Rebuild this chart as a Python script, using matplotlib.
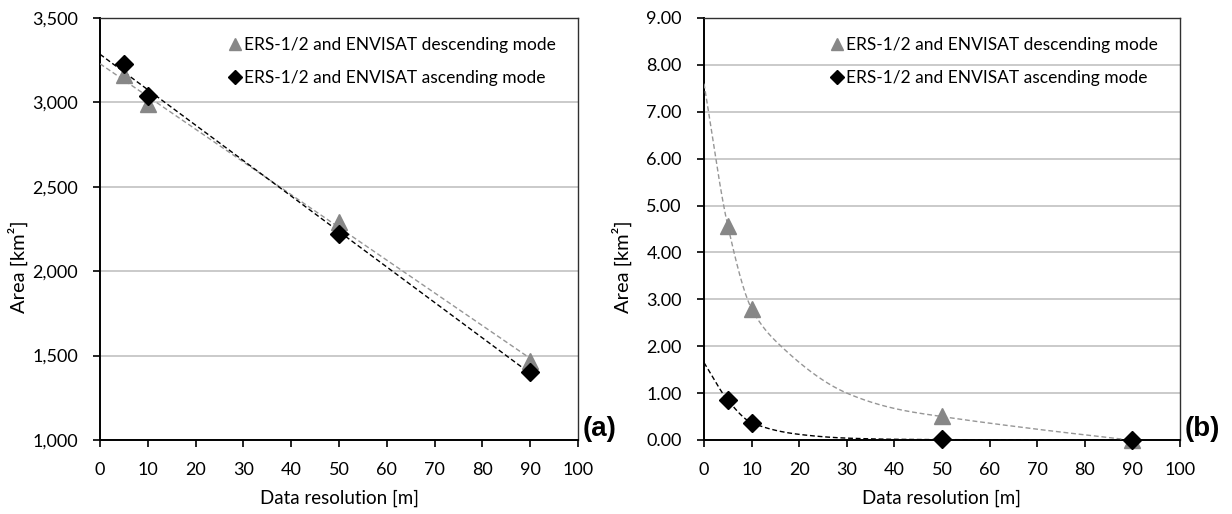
import numpy as np
import matplotlib
matplotlib.use("Agg")
import matplotlib.pyplot as plt
from matplotlib.ticker import FuncFormatter

plt.rcParams['font.family'] = ['Lato', 'DejaVu Sans']

# ---------------- data ----------------
resolution = [5, 10, 50, 90]

# panel (a)
desc_a = [3160, 2990, 2290, 1470]
asc_a = [3225, 3035, 2220, 1405]

# panel (b)
desc_b = [4.57, 2.80, 0.52, 0.0]
asc_b = [0.85, 0.37, 0.02, 0.0]

# trend curves of panel (b)
desc_b_trend_x = [0, 5, 10, 16.5, 30, 41, 50, 70, 89.5]
desc_b_trend_y = [7.6, 4.57, 2.8, 1.97, 1.0, 0.65, 0.5, 0.23, 0.0]
asc_b_trend_x = [0, 5, 10, 20, 30, 40, 50, 90]
asc_b_trend_y = [1.65, 0.85, 0.37, 0.12, 0.04, 0.015, 0.008, 0.0]

label_desc = "ERS-1/2 and ENVISAT descending mode"
label_asc = "ERS-1/2 and ENVISAT ascending mode"
xlabel = "Data resolution [m]"
ylabel = "Area [km²]"


def pchip(x, y, xn):
    x = np.asarray(x, float); y = np.asarray(y, float)
    h = np.diff(x); d = np.diff(y) / h
    m = np.zeros_like(y)
    for k in range(1, len(x) - 1):
        if d[k - 1] * d[k] <= 0:
            m[k] = 0
        else:
            w1 = 2 * h[k] + h[k - 1]; w2 = h[k] + 2 * h[k - 1]
            m[k] = (w1 + w2) / (w1 / d[k - 1] + w2 / d[k])
    m[0] = d[0]; m[-1] = d[-1]
    out = np.empty_like(xn)
    for i, xv in enumerate(xn):
        k = min(max(np.searchsorted(x, xv) - 1, 0), len(x) - 2)
        t = (xv - x[k]) / h[k]
        h00 = 2 * t**3 - 3 * t**2 + 1; h10 = t**3 - 2 * t**2 + t
        h01 = -2 * t**3 + 3 * t**2; h11 = t**3 - t**2
        out[i] = h00 * y[k] + h10 * h[k] * m[k] + h01 * y[k + 1] + h11 * h[k] * m[k + 1]
    return out


GRAY = '#878787'
GRAY_LINE = '#969696'
fig = plt.figure(figsize=(12.32, 5.14), dpi=100)
axa = fig.add_axes([100 / 1232, 1 - 440 / 514, 478 / 1232, 422 / 514])
axb = fig.add_axes([704 / 1232, 1 - 440 / 514, 476 / 1232, 422 / 514])

dash = (0, (3.5, 2))

# ---- panel (a) ----
xx = np.linspace(0, 90, 50)
pd_ = np.polyfit(resolution, desc_a, 1)
pa_ = np.polyfit(resolution, asc_a, 1)
axa.plot(xx, np.polyval(pd_, xx), color=GRAY_LINE, lw=1, ls=dash, zorder=3)
axa.plot(xx, np.polyval(pa_, xx), color='black', lw=1, ls=dash, zorder=3)
axa.plot(resolution, desc_a, ls='none', marker='^', ms=11, color=GRAY, zorder=4, label=label_desc)
axa.plot(resolution, asc_a, ls='none', marker='D', ms=9.5, color='black', zorder=5, label=label_asc)
axa.set_ylim(1000, 3500)
axa.set_yticks(np.arange(1000, 3501, 500))
axa.yaxis.set_major_formatter(FuncFormatter(lambda v, p: f"{int(v):,}"))

# ---- panel (b) ----
xd = np.linspace(0, 89.5, 300)
axb.plot(xd, pchip(desc_b_trend_x, desc_b_trend_y, xd), color=GRAY_LINE, lw=1, ls=dash, zorder=3)
xa = np.linspace(0, 90, 300)
axb.plot(xa, pchip(asc_b_trend_x, asc_b_trend_y, xa), color='black', lw=1, ls=dash, zorder=3)
axb.plot(resolution, desc_b, ls='none', marker='^', ms=11, color=GRAY, zorder=4, label=label_desc, clip_on=False)
axb.plot(resolution, asc_b, ls='none', marker='D', ms=9.5, color='black', zorder=5, label=label_asc, clip_on=False)
axb.set_ylim(0, 9)
axb.set_yticks(np.arange(0, 9.01, 1))
axb.yaxis.set_major_formatter(FuncFormatter(lambda v, p: f"{v:.2f}"))

for ax, tag in ((axa, '(a)'), (axb, '(b)')):
    ax.set_xlim(0, 100)
    ax.set_xticks(np.arange(0, 101, 10))
    ax.grid(axis='y', color='#c6c6c6', lw=1.3)
    ax.set_axisbelow(True)
    for s in ax.spines.values():
        s.set_color('#303030'); s.set_linewidth(1.0)
    ax.spines['left'].set_color('black'); ax.spines['left'].set_linewidth(1.4)
    ax.spines['bottom'].set_color('black'); ax.spines['bottom'].set_linewidth(1.4)
    ax.tick_params(direction='out', length=5, width=1.2, labelsize=13, colors='black')
    ax.tick_params(axis='x', pad=11)
    ax.tick_params(axis='y', pad=11)
    ax.set_xlabel(xlabel, fontsize=13.5, labelpad=8)
    ax.set_ylabel(ylabel, fontsize=14.5)
    ax.yaxis.set_label_coords(-0.151, 0.41)
    leg = ax.legend(loc='upper right', bbox_to_anchor=(0.975, 0.98), frameon=False, fontsize=12.5,
                    handlelength=0.5, handletextpad=0.25, labelspacing=1.0, borderaxespad=0.2,
                    markerscale=0.75)
    ax.text(1.01, -0.005, tag, transform=ax.transAxes, fontsize=20, fontweight='bold',
            ha='left', va='bottom', family=['Liberation Sans', 'DejaVu Sans'])

fig.savefig('out.png', dpi=100)
